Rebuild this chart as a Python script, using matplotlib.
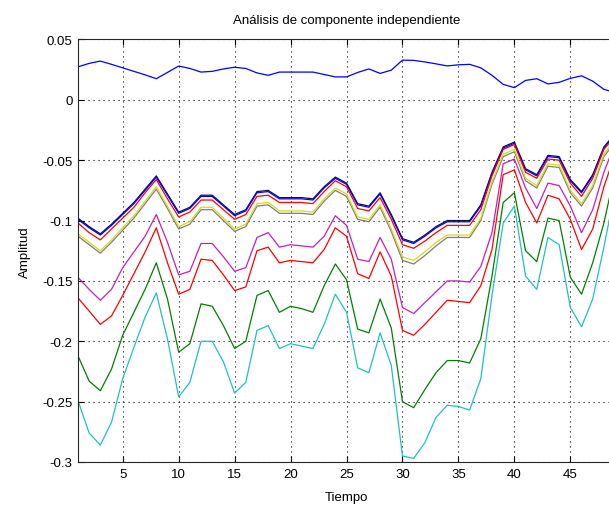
import numpy as np
import matplotlib
matplotlib.use("Agg")
import matplotlib.pyplot as plt

plt.rcParams["font.family"] = ["Liberation Sans", "DejaVu Sans"]

# time index 1..49
tiempo = list(range(1, 50))

# components, in drawing order
comp_azul = [0.0273, 0.0302, 0.0321, 0.0294, 0.0265, 0.0236, 0.0207, 0.0175, 0.0227, 0.0280,
             0.0260, 0.0230, 0.0236, 0.0256, 0.0270, 0.0260, 0.0223, 0.0203, 0.0230, 0.0230,
             0.0230, 0.0230, 0.0210, 0.0190, 0.0190, 0.0227, 0.0256, 0.0219, 0.0246, 0.0329,
             0.0327, 0.0314, 0.0298, 0.0281, 0.0290, 0.0294, 0.0265, 0.0203, 0.0128, 0.0101,
             0.0161, 0.0175, 0.0132, 0.0145, 0.0178, 0.0199, 0.0155, 0.0087, 0.0060]
comp_verde = [-0.212, -0.233, -0.241, -0.223, -0.195, -0.176, -0.157, -0.135, -0.165, -0.209,
              -0.202, -0.169, -0.171, -0.187, -0.206, -0.200, -0.162, -0.158, -0.176, -0.171,
              -0.173, -0.176, -0.154, -0.136, -0.149, -0.190, -0.193, -0.165, -0.189, -0.250,
              -0.255, -0.240, -0.226, -0.216, -0.216, -0.218, -0.198, -0.146, -0.085, -0.077,
              -0.125, -0.134, -0.098, -0.100, -0.147, -0.161, -0.135, -0.102, -0.060]
comp_rojo = [-0.164, -0.175, -0.186, -0.179, -0.162, -0.144, -0.126, -0.106, -0.135, -0.161,
             -0.157, -0.132, -0.133, -0.145, -0.158, -0.155, -0.125, -0.122, -0.135, -0.133,
             -0.134, -0.135, -0.124, -0.106, -0.113, -0.144, -0.148, -0.126, -0.146, -0.191,
             -0.195, -0.186, -0.176, -0.166, -0.167, -0.168, -0.154, -0.124, -0.062, -0.058,
             -0.085, -0.102, -0.079, -0.082, -0.099, -0.124, -0.107, -0.072, -0.045]
comp_cian = [-0.249, -0.276, -0.286, -0.267, -0.231, -0.205, -0.180, -0.160, -0.198, -0.246,
             -0.234, -0.200, -0.200, -0.217, -0.243, -0.234, -0.191, -0.187, -0.206, -0.202,
             -0.204, -0.206, -0.186, -0.161, -0.176, -0.222, -0.226, -0.193, -0.220, -0.295,
             -0.297, -0.284, -0.263, -0.253, -0.254, -0.257, -0.231, -0.162, -0.102, -0.088,
             -0.146, -0.157, -0.114, -0.120, -0.172, -0.188, -0.165, -0.122, -0.075]
comp_magenta = [-0.147, -0.157, -0.166, -0.157, -0.139, -0.126, -0.113, -0.095, -0.118, -0.145,
                -0.142, -0.119, -0.119, -0.130, -0.142, -0.139, -0.114, -0.110, -0.122, -0.120,
                -0.121, -0.122, -0.113, -0.096, -0.104, -0.132, -0.134, -0.114, -0.132, -0.172,
                -0.177, -0.168, -0.159, -0.150, -0.150, -0.151, -0.138, -0.110, -0.053, -0.049,
                -0.073, -0.090, -0.069, -0.071, -0.088, -0.110, -0.091, -0.060, -0.036]
comp_gris = [-0.113, -0.120, -0.127, -0.118, -0.108, -0.098, -0.086, -0.074, -0.090, -0.107,
             -0.103, -0.091, -0.091, -0.100, -0.109, -0.105, -0.088, -0.087, -0.094, -0.094,
             -0.094, -0.095, -0.084, -0.075, -0.080, -0.099, -0.101, -0.089, -0.109, -0.133,
             -0.136, -0.129, -0.121, -0.114, -0.114, -0.114, -0.100, -0.070, -0.047, -0.043,
             -0.067, -0.073, -0.055, -0.056, -0.077, -0.088, -0.073, -0.047, -0.035]
comp_amarillo = [-0.111, -0.118, -0.125, -0.116, -0.106, -0.096, -0.084, -0.072, -0.088, -0.105,
                 -0.101, -0.089, -0.089, -0.098, -0.107, -0.103, -0.086, -0.085, -0.092, -0.092,
                 -0.092, -0.093, -0.082, -0.073, -0.078, -0.097, -0.099, -0.087, -0.107, -0.130,
                 -0.133, -0.126, -0.118, -0.112, -0.112, -0.112, -0.098, -0.068, -0.045, -0.041,
                 -0.065, -0.071, -0.053, -0.054, -0.075, -0.086, -0.071, -0.045, -0.033]
comp_negro = [-0.098, -0.105, -0.111, -0.103, -0.094, -0.085, -0.074, -0.063, -0.078, -0.093,
              -0.089, -0.079, -0.079, -0.087, -0.095, -0.091, -0.076, -0.075, -0.081, -0.081,
              -0.081, -0.082, -0.072, -0.064, -0.069, -0.086, -0.088, -0.077, -0.095, -0.115,
              -0.118, -0.112, -0.105, -0.100, -0.100, -0.100, -0.087, -0.060, -0.039, -0.035,
              -0.057, -0.062, -0.046, -0.047, -0.066, -0.076, -0.062, -0.039, -0.028]
comp_azul2 = [-0.099, -0.106, -0.112, -0.104, -0.095, -0.086, -0.075, -0.064, -0.079, -0.094,
              -0.090, -0.080, -0.080, -0.088, -0.096, -0.092, -0.077, -0.076, -0.082, -0.082,
              -0.082, -0.083, -0.073, -0.065, -0.070, -0.087, -0.089, -0.078, -0.096, -0.116,
              -0.119, -0.113, -0.106, -0.101, -0.101, -0.101, -0.088, -0.061, -0.040, -0.036,
              -0.058, -0.063, -0.047, -0.048, -0.067, -0.077, -0.063, -0.040, -0.029]
comp_rojo2 = [-0.102, -0.110, -0.116, -0.107, -0.098, -0.089, -0.077, -0.066, -0.082, -0.097,
              -0.093, -0.083, -0.083, -0.091, -0.099, -0.095, -0.080, -0.079, -0.085, -0.085,
              -0.085, -0.086, -0.076, -0.067, -0.072, -0.090, -0.092, -0.081, -0.099, -0.120,
              -0.123, -0.117, -0.110, -0.104, -0.104, -0.104, -0.091, -0.063, -0.041, -0.037,
              -0.060, -0.065, -0.049, -0.050, -0.069, -0.080, -0.065, -0.041, -0.030]

componentes = [comp_azul, comp_verde, comp_rojo, comp_cian, comp_magenta,
               comp_gris, comp_amarillo, comp_negro, comp_azul2, comp_rojo2]
colores = ["#0000ff", "#008000", "#ff0000", "#20c0c0", "#c020c0",
           "#7f7f70", "#d8d820", "#101040", "#0000ff", "#ff0000"]

yticks = [0.05, 0, -0.05, -0.1, -0.15, -0.2, -0.25, -0.3]
ytick_labels = ["0.05", "0", "-0.05", "-0.1", "-0.15", "-0.2", "-0.25", "-0.3"]
xticks = [5, 10, 15, 20, 25, 30, 35, 40, 45]

fig = plt.figure(figsize=(6.09, 5.06), dpi=100)
ax = fig.add_axes([0.128, 0.085, 0.882, 0.835])

for serie, c in zip(componentes, colores):
    ax.plot(tiempo, serie, color=c, linewidth=0.9)

ax.set_xlim(1, 49)
ax.set_ylim(-0.3, 0.05)
ax.set_xticks(xticks)
ax.set_xticklabels([str(t) for t in xticks])
ax.set_yticks(yticks)
ax.set_yticklabels(ytick_labels)
ax.tick_params(direction="in", length=4, width=0.8, top=True, right=True,
               labelsize=9.5, pad=4)
ax.grid(True, color="black", linestyle=(0, (1, 3.5)), linewidth=0.8)
for s in ax.spines.values():
    s.set_linewidth(0.8)
    s.set_color("#262626")

ax.set_title("Análisis de componente independiente", fontsize=9.5, pad=12)
ax.set_xlabel("Tiempo", fontsize=9.5, labelpad=8)
ax.set_ylabel("Amplitud", fontsize=9.5, labelpad=8)

fig.savefig("out.png", dpi=100, facecolor="white")
